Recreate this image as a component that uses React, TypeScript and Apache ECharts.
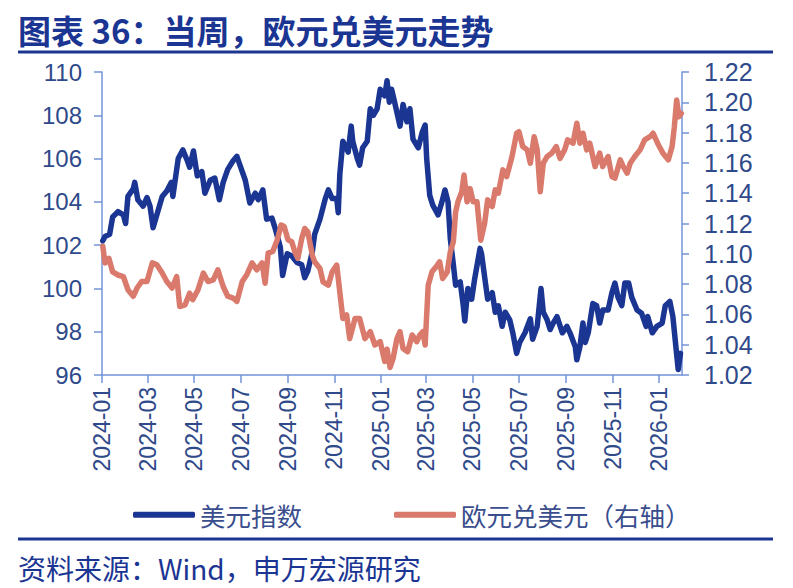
import React, { useEffect, useRef } from "react";
import * as echarts from "echarts";

const titleText = "图表 36：当周，欧元兑美元走势";
const sourceText = "资料来源：Wind，申万宏源研究";
const seriesNames = ["美元指数", "欧元兑美元（右轴）"];

const xTickLabels = [
  "2024-01", "2024-03", "2024-05", "2024-07", "2024-09", "2024-11",
  "2025-01", "2025-03", "2025-05", "2025-07", "2025-09", "2025-11", "2026-01",
];
const xStart = "2024-01-01";
const xEnd = "2026-01-31";

const dxyDates = [
  "2024-01-02","2024-01-05","2024-01-11","2024-01-15","2024-01-22","2024-01-29","2024-02-01","2024-02-04","2024-02-11","2024-02-13",
  "2024-02-17","2024-02-24","2024-02-29","2024-03-04","2024-03-08","2024-03-13","2024-03-20","2024-03-26","2024-04-01","2024-04-03",
  "2024-04-10","2024-04-16","2024-04-22","2024-04-25","2024-04-30","2024-05-05","2024-05-11","2024-05-15","2024-05-22","2024-05-28",
  "2024-06-03","2024-06-08","2024-06-14","2024-06-21","2024-06-26","2024-06-30","2024-07-07","2024-07-13","2024-07-20","2024-07-24",
  "2024-07-30","2024-08-04","2024-08-11","2024-08-15","2024-08-22","2024-08-25","2024-08-31","2024-09-06","2024-09-13","2024-09-19",
  "2024-09-23","2024-09-27","2024-10-03","2024-10-06","2024-10-13","2024-10-20","2024-10-24","2024-10-29","2024-11-04","2024-11-06",
  "2024-11-08","2024-11-12","2024-11-19","2024-11-23","2024-11-25","2024-12-01","2024-12-04","2024-12-08","2024-12-14","2024-12-18",
  "2024-12-22","2024-12-27","2024-12-31","2025-01-06","2025-01-09","2025-01-12","2025-01-15","2025-01-19","2025-01-26","2025-01-30",
  "2025-02-04","2025-02-08","2025-02-12","2025-02-19","2025-02-24","2025-02-28","2025-03-02","2025-03-06","2025-03-10","2025-03-17",
  "2025-03-22","2025-03-26","2025-03-30","2025-04-02","2025-04-06","2025-04-09","2025-04-15","2025-04-19","2025-04-21","2025-04-25",
  "2025-04-30","2025-05-04","2025-05-11","2025-05-13","2025-05-17","2025-05-21","2025-05-27","2025-05-31","2025-06-04","2025-06-09",
  "2025-06-13","2025-06-19","2025-06-23","2025-06-28","2025-07-02","2025-07-09","2025-07-16","2025-07-19","2025-07-25","2025-07-30",
  "2025-08-02","2025-08-07","2025-08-11","2025-08-15","2025-08-20","2025-08-27","2025-09-02","2025-09-06","2025-09-13","2025-09-15",
  "2025-09-19","2025-09-23","2025-09-26","2025-09-30","2025-10-06","2025-10-11","2025-10-15","2025-10-19","2025-10-26","2025-10-31",
  "2025-11-04","2025-11-08","2025-11-13","2025-11-17","2025-11-22","2025-11-26","2025-12-03","2025-12-09","2025-12-15","2025-12-17",
  "2025-12-23","2025-12-29","2026-01-05","2026-01-09","2026-01-15","2026-01-19","2026-01-23","2026-01-26","2026-01-29",
];
const dxyValues = [
  102.2,102.4,102.5,103.3,103.55,103.4,103.0,104.25,104.6,104.9,
  104.1,103.8,104.2,103.8,102.8,103.4,104.25,104.5,104.9,104.25,
  106.0,106.4,105.9,105.6,106.35,105.2,105.4,104.4,105.0,105.1,
  104.1,104.9,105.5,105.9,106.1,105.7,105.0,103.95,104.4,104.1,
  104.55,103.2,103.25,102.8,101.9,100.6,101.6,101.5,101.2,101.1,
  100.5,100.8,101.7,102.5,103.2,104.15,104.55,104.15,104.15,103.5,
  105.25,106.8,106.3,107.5,106.8,106.0,105.7,106.5,106.8,108.3,
  108.0,108.3,109.2,108.9,109.6,108.6,109.2,108.6,107.5,108.5,
  107.7,108.3,106.9,106.5,107.2,107.55,106.0,104.3,103.85,103.4,
  104.0,104.55,104.0,102.3,101.1,100.15,100.3,99.2,98.5,100.0,
  99.5,100.45,101.85,101.6,100.55,99.5,99.8,98.9,99.2,98.25,
  98.9,98.55,97.95,97.0,97.5,97.95,98.6,97.65,98.25,100.0,
  98.9,98.55,98.1,98.4,98.7,97.95,98.25,97.95,97.3,96.7,
  97.3,98.4,97.5,97.95,99.3,99.2,98.4,99.0,99.0,99.8,
  100.25,99.6,99.2,100.25,100.25,99.6,99.0,98.85,98.25,98.7,
  97.95,98.25,98.4,99.2,99.4,98.7,97.3,96.25,97.0,
];

const eurDates = [
  "2024-01-02","2024-01-05","2024-01-10","2024-01-15","2024-01-22","2024-01-29","2024-02-04","2024-02-11","2024-02-16","2024-02-22",
  "2024-02-29","2024-03-07","2024-03-13","2024-03-20","2024-03-26","2024-04-02","2024-04-08","2024-04-12","2024-04-19","2024-04-25",
  "2024-04-29","2024-05-06","2024-05-13","2024-05-19","2024-05-26","2024-06-01","2024-06-08","2024-06-14","2024-06-21","2024-06-26",
  "2024-07-03","2024-07-09","2024-07-16","2024-07-22","2024-07-29","2024-08-02","2024-08-06","2024-08-12","2024-08-18","2024-08-23",
  "2024-08-27","2024-09-01","2024-09-06","2024-09-10","2024-09-14","2024-09-19","2024-09-23","2024-09-27","2024-10-03","2024-10-06",
  "2024-10-13","2024-10-17","2024-10-24","2024-10-29","2024-11-04","2024-11-08","2024-11-12","2024-11-17","2024-11-21","2024-11-28",
  "2024-12-04","2024-12-11","2024-12-18","2024-12-24","2024-12-31","2025-01-06","2025-01-09","2025-01-13","2025-01-17","2025-01-22",
  "2025-01-26","2025-01-30","2025-02-05","2025-02-11","2025-02-17","2025-02-21","2025-02-25","2025-02-28","2025-03-04","2025-03-09",
  "2025-03-16","2025-03-19","2025-03-23","2025-03-29","2025-04-02","2025-04-06","2025-04-09","2025-04-12","2025-04-17","2025-04-20",
  "2025-04-24","2025-04-28","2025-05-02","2025-05-07","2025-05-12","2025-05-17","2025-05-21","2025-05-27","2025-05-31","2025-06-04",
  "2025-06-10","2025-06-15","2025-06-22","2025-06-28","2025-07-01","2025-07-06","2025-07-12","2025-07-16","2025-07-21","2025-07-25",
  "2025-07-29","2025-08-02","2025-08-07","2025-08-13","2025-08-19","2025-08-24","2025-08-30","2025-09-03","2025-09-10","2025-09-15",
  "2025-09-19","2025-09-23","2025-09-28","2025-10-02","2025-10-09","2025-10-15","2025-10-19","2025-10-26","2025-10-31","2025-11-04",
  "2025-11-11","2025-11-15","2025-11-20","2025-11-24","2025-11-30","2025-12-07","2025-12-13","2025-12-20","2025-12-24","2025-12-30",
  "2026-01-06","2026-01-13","2026-01-18","2026-01-21","2026-01-24","2026-01-27","2026-01-30",
];
const eurValues = [
  1.105,1.094,1.097,1.088,1.086,1.085,1.0763,1.072,1.0774,1.0817,
  1.0817,1.094,1.0927,1.0873,1.0817,1.0774,1.085,1.0652,1.0663,1.074,
  1.0697,1.0763,1.0873,1.0817,1.0828,1.0894,1.0784,1.072,1.0708,1.0686,
  1.0817,1.0862,1.094,1.0894,1.094,1.0806,1.1004,1.1015,1.1092,1.119,
  1.118,1.1092,1.108,1.1013,1.097,1.11,1.1167,1.1145,1.099,1.0947,
  1.0903,1.0815,1.0793,1.0881,1.0925,1.0749,1.0573,1.0596,1.044,1.0573,
  1.0573,1.044,1.0486,1.0398,1.042,1.029,1.037,1.025,1.031,1.044,
  1.0486,1.0375,1.0354,1.0464,1.042,1.0464,1.0486,1.0398,1.0793,1.0881,
  1.0925,1.0947,1.0837,1.0881,1.1013,1.108,1.1277,1.1343,1.1409,1.152,
  1.1343,1.143,1.1343,1.1343,1.109,1.12,1.1356,1.1312,1.1422,1.14,
  1.1554,1.151,1.1642,1.1796,1.1806,1.1708,1.1686,1.1598,1.1773,1.1686,
  1.141,1.1598,1.1642,1.1664,1.1708,1.163,1.1686,1.1752,1.173,1.1862,
  1.173,1.1796,1.1686,1.173,1.1576,1.1664,1.1576,1.1642,1.151,1.1499,
  1.162,1.1576,1.1532,1.1598,1.1642,1.1686,1.1752,1.1773,1.1796,1.173,
  1.1664,1.162,1.1708,1.184,1.2015,1.1905,1.1927,
];

const BLUE = "#1B3593";
const SALMON = "#D97A6C";
const AXIS = "#7393D8";
const LABEL = "#2F4A8A";

function pad(n: number): string {
  return n < 10 ? "0" + n : "" + n;
}

// every calendar day of the axis range, used as the category axis
function buildDays(start: string, end: string): string[] {
  const [sy, sm, sd] = start.split("-").map(Number);
  const [ey, em, ed] = end.split("-").map(Number);
  const out: string[] = [];
  let t = Date.UTC(sy, sm - 1, sd);
  const stop = Date.UTC(ey, em - 1, ed);
  while (t <= stop) {
    const d = new Date(t);
    out.push(d.getUTCFullYear() + "-" + pad(d.getUTCMonth() + 1) + "-" + pad(d.getUTCDate()));
    t += 86400000;
  }
  return out;
}

export default function App() {
  const ref = useRef<HTMLDivElement>(null);

  useEffect(() => {
    if (!ref.current) return;
    const chart = echarts.init(ref.current, undefined, { renderer: "svg" });
    const days = buildDays(xStart, xEnd);
    const dayIndex: Record<string, number> = {};
    days.forEach((d, i) => (dayIndex[d] = i));
    const tickSet = new Set(xTickLabels.map((m) => m + "-01"));
    const isTick = (_i: number, v: string) => tickSet.has(v);
    const axisFont = "Liberation Sans";

    const option: any = {
      animation: false,
      grid: { left: 102, right: 111, top: 72, bottom: 213, containLabel: false },
      xAxis: {
        type: "category",
        data: days,
        boundaryGap: false,
        axisLine: { show: true, onZero: false, lineStyle: { color: AXIS, width: 1.5 } },
        axisTick: { show: true, interval: isTick, length: 8, lineStyle: { color: AXIS, width: 1.5 } },
        axisLabel: {
          interval: isTick,
          rotate: 90,
          margin: 12,
          fontSize: 23,
          fontFamily: axisFont,
          color: LABEL,
          formatter: (v: string) => v.slice(0, 7),
        },
        splitLine: { show: false },
      },
      yAxis: [
        {
          type: "value",
          position: "left",
          min: 96,
          max: 110,
          interval: 2,
          axisLine: { show: true, lineStyle: { color: AXIS, width: 1.5 } },
          axisTick: { show: true, length: 8, lineStyle: { color: AXIS, width: 1.5 } },
          axisLabel: { margin: 20, fontSize: 24, fontFamily: axisFont, color: LABEL },
          splitLine: { show: false },
        },
        {
          type: "value",
          position: "right",
          min: 1.02,
          max: 1.22,
          interval: 0.02,
          axisLine: { show: true, lineStyle: { color: AXIS, width: 1.5 } },
          axisTick: { show: true, length: 7, lineStyle: { color: AXIS, width: 1.5 } },
          axisLabel: {
            margin: 22,
            fontSize: 25,
            fontFamily: axisFont,
            color: LABEL,
            formatter: (v: number) => v.toFixed(2),
          },
          splitLine: { show: false },
        },
      ],
      legend: {
        data: seriesNames,
        left: 128,
        top: 497,
        icon: "roundRect",
        itemWidth: 62,
        itemHeight: 6,
        itemGap: 92,
        textStyle: { fontSize: 25.5, color: "#3A4E8E", fontFamily: "Noto Sans CJK SC" },
      },
      series: [
        {
          name: seriesNames[0],
          type: "line",
          yAxisIndex: 0,
          showSymbol: false,
          symbol: "none",
          lineStyle: { color: BLUE, width: 5.5, join: "round", cap: "round" },
          itemStyle: { color: BLUE },
          data: dxyDates.map((d, i) => [dayIndex[d], dxyValues[i]]),
        },
        {
          name: seriesNames[1],
          type: "line",
          yAxisIndex: 1,
          showSymbol: false,
          symbol: "none",
          lineStyle: { color: SALMON, width: 5.5, join: "round", cap: "round" },
          itemStyle: { color: SALMON },
          data: eurDates.map((d, i) => [dayIndex[d], eurValues[i]]),
        },
      ],
      graphic: [
        {
          type: "text",
          left: 18,
          top: 13,
          style: {
            text: titleText,
            fontSize: 33,
            fontWeight: "bold",
            fontFamily: "Noto Sans CJK SC",
            fill: BLUE,
          },
        },
        { type: "rect", shape: { x: 18, y: 50.5, width: 755, height: 3 }, style: { fill: BLUE } },
        { type: "rect", shape: { x: 18, y: 537.5, width: 755, height: 3 }, style: { fill: BLUE } },
        {
          type: "text",
          left: 18,
          top: 554,
          style: {
            text: sourceText,
            fontSize: 28,
            fontFamily: "Noto Sans CJK SC",
            fill: BLUE,
          },
        },
      ],
    };

    chart.setOption(option);
    return () => chart.dispose();
  }, []);

  return (
    <div
      ref={ref}
      style={{ position: "fixed", left: 0, top: 0, width: 793, height: 588, background: "#fff" }}
    />
  );
}
